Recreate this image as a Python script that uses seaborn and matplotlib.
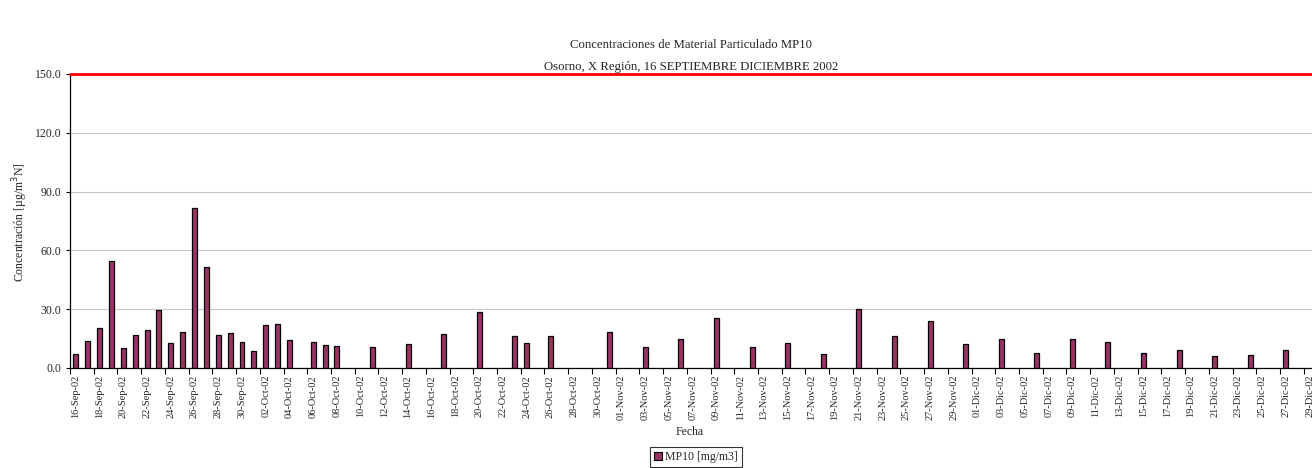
import matplotlib
matplotlib.use("Agg")
import matplotlib.pyplot as plt
import matplotlib.patches as mpatches
import seaborn as sns
import pandas as pd

# dias con medicion y concentracion MP10 [ug/m3N]
fechas = [
    "2002-09-16", "2002-09-17", "2002-09-18", "2002-09-19", "2002-09-20",
    "2002-09-21", "2002-09-22", "2002-09-23", "2002-09-24", "2002-09-25",
    "2002-09-26", "2002-09-27", "2002-09-28", "2002-09-29", "2002-09-30",
    "2002-10-01", "2002-10-02", "2002-10-03", "2002-10-04", "2002-10-06",
    "2002-10-07", "2002-10-08", "2002-10-11", "2002-10-14", "2002-10-17",
    "2002-10-20", "2002-10-23", "2002-10-24", "2002-10-26", "2002-10-31",
    "2002-11-03", "2002-11-06", "2002-11-09", "2002-11-12", "2002-11-15",
    "2002-11-18", "2002-11-21", "2002-11-24", "2002-11-27", "2002-11-30",
    "2002-12-03", "2002-12-06", "2002-12-09", "2002-12-12", "2002-12-15",
    "2002-12-18", "2002-12-21", "2002-12-24", "2002-12-27",
]
mp10 = [
    7.2, 13.7, 20.5, 54.4, 10.3,
    16.9, 19.5, 29.8, 12.8, 18.5,
    81.6, 51.3, 16.9, 18.1, 13.3,
    8.9, 22.1, 22.6, 14.4, 13.3,
    11.9, 11.3, 10.8, 12.5, 17.2,
    28.5, 16.5, 12.9, 16.5, 18.4,
    10.5, 14.7, 25.7, 10.5, 12.7,
    6.9, 30.0, 16.5, 24.0, 12.0,
    14.7, 7.9, 14.7, 13.5, 7.9,
    9.3, 6.0, 6.5, 9.4,
]

inicio = "2002-09-16"
fin = "2002-12-29"
norma = 150.0
meses = {9: "Sep", 10: "Oct", 11: "Nov", 12: "Dic"}
y_ticks = [0, 30, 60, 90, 120, 150]

dias = pd.date_range(inicio, fin, freq="D")
etiquetas = [f"{d.day:02d}-{meses[d.month]}-02" for d in dias]

df = pd.DataFrame({"fecha": pd.to_datetime(fechas), "mp10": mp10})
df["dia"] = [f"{d.day:02d}-{meses[d.month]}-02" for d in df["fecha"]]

sns.set_theme(style="white")
plt.rcParams["font.family"] = ["Liberation Serif", "DejaVu Serif"]

fig = plt.figure(figsize=(13.12, 4.68), dpi=100)
ax = fig.add_axes([70 / 1312, 1 - 368 / 468, 1 - 70 / 1312, 294 / 468])

color_barra = "#993366"
sns.barplot(data=df, x="dia", y="mp10", order=etiquetas, ax=ax,
            color=color_barra, saturation=1, width=0.42,
            edgecolor="black", linewidth=0.9, errorbar=None)

ax.axhline(norma, color="red", lw=2, clip_on=False, zorder=5)

ax.set_ylim(0, 150)
ax.set_xlim(-0.5, 104.2)
ax.set_yticks(y_ticks)
ax.set_yticklabels([f"{v:.1f}" for v in y_ticks], fontsize=8.5)
ax.yaxis.grid(True, color="#c8c8c8", lw=0.8)
ax.set_axisbelow(True)

pos = list(range(0, len(etiquetas), 2))
ax.set_xticks(pos)
ax.set_xticklabels([etiquetas[i] for i in pos], rotation=90, fontsize=7.5)
ax.set_xticks([i - 0.5 for i in pos], minor=True)
ax.tick_params(axis="x", which="major", length=0, pad=5)
ax.tick_params(axis="x", which="minor", length=4, width=0.8, color="black",
               direction="out", bottom=True)
ax.tick_params(axis="y", length=3, width=0.8, color="black", left=True,
               direction="out", pad=3)

for s in ["top", "right"]:
    ax.spines[s].set_visible(False)
for s in ["left", "bottom"]:
    ax.spines[s].set_color("black")
    ax.spines[s].set_linewidth(0.9)

ax.set_xlabel("")
ax.set_ylabel("")
fig.text(20 / 1312, 1 - 222 / 468, "Concentración [µg/m$^3$N]", rotation=90,
         ha="center", va="center", fontsize=8.5)
fig.text(690 / 1312, 1 - 432 / 468, "Fecha", ha="center", va="center", fontsize=8.5)

fig.text(691 / 1312, 1 - 45 / 468, "Concentraciones de Material Particulado MP10",
         ha="center", va="center", fontsize=9.2)
fig.text(691 / 1312, 1 - 67 / 468, "Osorno, X Región, 16 SEPTIEMBRE DICIEMBRE 2002",
         ha="center", va="center", fontsize=9.2)

parche = mpatches.Patch(facecolor=color_barra, edgecolor="black", lw=0.8,
                        label="MP10 [mg/m3]")
leg = fig.legend(handles=[parche], loc="center", bbox_to_anchor=(696 / 1312, 1 - 457 / 468),
                 fontsize=8.5, frameon=True, fancybox=False, handlelength=0.65,
                 handleheight=0.65, handletextpad=0.3, borderpad=0.3, borderaxespad=0)
leg.get_frame().set_edgecolor("black")
leg.get_frame().set_linewidth(0.8)

fig.savefig("out.png", dpi=100)
